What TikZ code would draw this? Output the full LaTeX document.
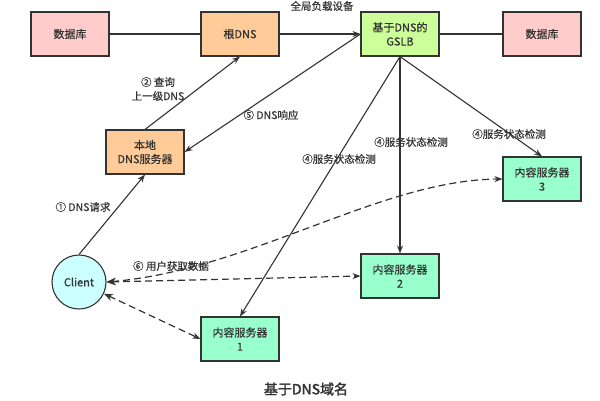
\documentclass[tikz,border=0pt]{standalone}
\usepackage{fontspec}
\setmainfont[FakeBold=0.5]{Noto Sans CJK SC}
\newfontfamily\capfont[FakeBold=2]{Noto Sans CJK SC}
\usetikzlibrary{arrows.meta}
\definecolor{cline}{HTML}{333333}
\definecolor{cpink}{HTML}{FFCCCC}
\definecolor{corange}{HTML}{FFCC99}
\definecolor{cgreen}{HTML}{CCFF99}
\definecolor{cmint}{HTML}{99FFCC}
\definecolor{ccyan}{HTML}{CCFFFF}
\begin{document}
\begin{tikzpicture}[x=1pt,y=-1pt,
  box/.style={draw=cline, line width=1.1pt, minimum width=78pt, minimum height=44pt, align=center, font=\fontsize{11}{14}\selectfont, text=cline, inner sep=1pt},
  plainline/.style={draw=cline, line width=1.1pt},
  arr/.style={draw=cline, line width=1.1pt, -{Stealth[length=8pt,width=6pt]}},
  dasharr/.style={draw=cline, line width=1.2pt, dash pattern=on 7pt off 4pt, {Stealth[length=9pt,width=7pt]}-{Stealth[length=8pt,width=6pt]}},
  lbl/.style={font=\fontsize{10.5}{14}\selectfont, text=cline, inner sep=0pt, align=center}]
\useasboundingbox (0,0) rectangle (600,400);
\fill[white] (0,0) rectangle (600,400);
\node[box, fill=cpink] (db1) at (70,34) {数据库};
\node[box, fill=corange] (root) at (240,34) {根DNS};
\node[box, fill=cgreen] (gslb) at (400,34) {基于DNS的\\GSLB};
\node[box, fill=cpink] (db2) at (542,34) {数据库};
\node[box, fill=corange] (local) at (145,152) {本地\\DNS服务器};
\node[circle, draw=cline, line width=1.1pt, fill=ccyan, minimum size=54pt, inner sep=0pt, font=\fontsize{11}{14}\selectfont, text=cline] (client) at (79,282) {Client};
\node[box, fill=cmint] (cs1) at (240,339) {内容服务器\\1};
\node[box, fill=cmint] (cs2) at (400,276) {内容服务器\\2};
\node[box, fill=cmint] (cs3) at (542,179) {内容服务器\\3};

\draw[plainline] (db1) -- (root);
\draw[arr] (root) -- (gslb);
\draw[plainline] (gslb) -- (db2);
\draw[arr] (local.north) -- (root.south);
\draw[arr] (gslb.west) -- (local.east);
\draw[arr] (client.north) -- (local.south);
\draw[arr] (gslb.south) -- (cs1.north);
\draw[arr] (gslb.south) -- (cs2.north);
\draw[arr] (gslb.south) -- (cs3.north);

\draw[dasharr] (client.east) .. controls (250,270) and (380,180) .. (cs3.west);
\draw[dasharr] (client.east) -- (cs2.west);
\draw[dasharr] (client) -- (cs1.west);

\node[lbl] (l2) at (158,89) {② 查询\\上一级DNS};
\node[lbl] (l5) at (271,115) {⑤ DNS响应};
\node[lbl] (l4a) at (339,159) {④服务状态检测};
\node[lbl] (l4b) at (411,142) {④服务状态检测};
\node[lbl] (l4c) at (509,134) {④服务状态检测};
\node[lbl] (l1) at (83,207) {① DNS请求};
\node[lbl] (l6) at (171,266) {⑥ 用户获取数据};
\node[lbl] (top) at (322,6) {全局负载设备};
\node[font=\capfont\fontsize{14}{16}\selectfont, text=cline, inner sep=0pt] (cap) at (306,389) {基于DNS域名};
\end{tikzpicture}
\end{document}
